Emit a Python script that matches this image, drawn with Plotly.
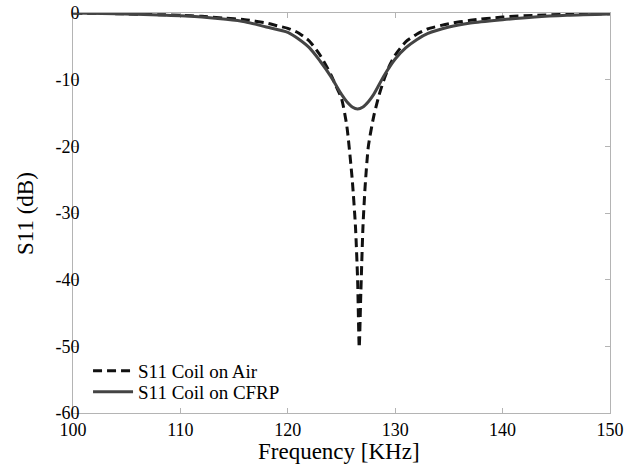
import plotly.graph_objects as go

# Coil on air (dashed)
freq_air = [100, 104, 108, 110, 112, 114, 116, 118, 119, 120, 121, 122, 123, 124, 124.5,
            125, 125.5, 126, 126.3, 126.5, 126.65, 126.8, 127, 127.2, 127.5, 128, 128.5,
            129, 129.5, 130, 131, 132, 133, 135, 137, 140, 143, 146, 150]
s11_air = [0, -0.1, -0.25, -0.35, -0.5, -0.75, -1.0, -1.5, -1.9, -2.3, -3.0, -4.2, -6.3, -9.2, -11,
           -12.8, -17, -25, -32, -40, -50.2, -42, -32, -26, -20, -15.5, -12.3,
           -9.8, -7.8, -6.3, -4.3, -3.2, -2.4, -1.6, -1.1, -0.6, -0.35, -0.2, -0.1]

# Coil on CFRP (solid)
freq_cfrp = [100, 104, 108, 110, 112, 114, 116, 118, 120, 121, 122, 123, 124, 125, 125.5,
             126, 126.5, 127, 127.5, 128, 129, 130, 131, 132, 133, 135, 137, 140, 143, 146, 150]
s11_cfrp = [0, -0.1, -0.3, -0.4, -0.6, -0.9, -1.3, -2.1, -2.9, -3.9, -5.2, -7.2, -9.5, -12.2, -13.3,
            -14.1, -14.4, -14.1, -13.3, -12.2, -9.3, -6.9, -5.2, -4.0, -3.1, -2.1, -1.5, -1.0, -0.6, -0.35, -0.15]

x_ticks = [100, 110, 120, 130, 140, 150]
y_ticks = [0, -10, -20, -30, -40, -50, -60]

font_family = "Liberation Serif"

fig = go.Figure()
fig.add_trace(go.Scatter(x=freq_air, y=s11_air, mode="lines", name="S11 Coil on Air", legend="legend",
                         line=dict(color="#111111", width=3, dash="9px,5px", shape="spline", smoothing=0.6)))
fig.add_trace(go.Scatter(x=freq_cfrp, y=s11_cfrp, mode="lines", name="S11 Coil on CFRP", legend="legend2",
                         line=dict(color="#444444", width=3, shape="spline", smoothing=0.8)))

axis_common = dict(showline=True, linecolor="#b4b4b4", linewidth=1, mirror="ticks",
                   ticks="inside", ticklen=5, tickcolor="#b4b4b4", showgrid=False,
                   zeroline=False, layer="below traces", automargin=False,
                   ticklabeloverflow="allow",
                   tickfont=dict(family=font_family, size=18, color="black"))

legend_common = dict(xanchor="left", yanchor="middle", bgcolor="rgba(0,0,0,0)",
                     font=dict(family=font_family, size=19, color="black"), itemwidth=40)

fig.update_layout(
    width=628, height=468,
    margin=dict(l=73, r=18, t=13, b=55, autoexpand=False),
    paper_bgcolor="white", plot_bgcolor="white",
    font=dict(family=font_family, color="black"),
    xaxis=dict(range=[100, 150], tickvals=x_ticks, ticktext=[str(v) for v in x_ticks], **axis_common),
    yaxis=dict(range=[-60, 0], tickvals=y_ticks, ticktext=[str(v) for v in y_ticks],
               ticklabelstandoff=-11, **axis_common),
    legend=dict(x=0.028, y=0.105, **legend_common),
    legend2=dict(x=0.028, y=0.053, **legend_common),
    annotations=[
        dict(text="Frequency [KHz]", xref="paper", yref="paper", x=0.495, y=-0.0975,
             xanchor="center", yanchor="middle", showarrow=False,
             font=dict(family=font_family, size=23, color="black")),
        dict(text="S11 (dB)", xref="paper", yref="paper", x=-0.0894, y=0.5, textangle=-90,
             xanchor="center", yanchor="middle", showarrow=False,
             font=dict(family=font_family, size=23, color="black")),
    ],
    showlegend=True,
)

fig.write_html("out.html", config={"displayModeBar": False},
               post_script="document.body.style.margin='0';")
